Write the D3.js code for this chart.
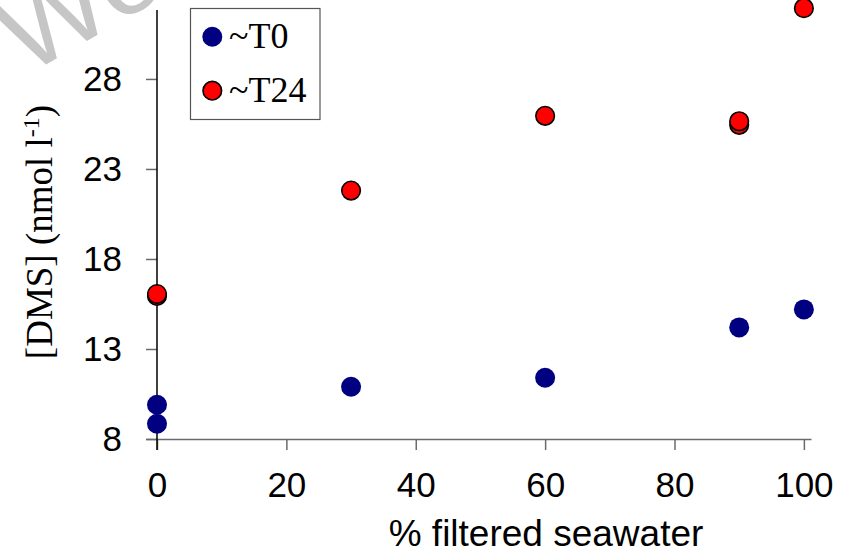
<!DOCTYPE html>
<html>
<head>
<meta charset="utf-8">
<script src="https://cdn.jsdelivr.net/npm/d3@7"></script>
<style>
  body { margin: 0; background: #fff; }
  svg { display: block; }
</style>
</head>
<body>
<svg id="chart" width="849" height="553"></svg>
<script>
// % filtered seawater vs [DMS]
var xTicks = [0, 20, 40, 60, 80, 100];
var yTicks = [8, 13, 18, 23, 28];

var t0X = [0, 0, 30, 60, 90, 100];
var t0Y = [9.9, 8.85, 10.9, 11.4, 14.2, 15.2];

var t24X = [0, 0, 30, 60, 90, 90, 100];
var t24Y = [15.95, 16.05, 21.8, 25.95, 25.45, 25.65, 31.93];

var seriesNames = ["~T0", "~T24"];

var svg = d3.select("#chart");

var x = d3.scaleLinear().domain([-1.7, 101.1]).range([146, 811]);
var y = d3.scaleLinear().domain([8, 31.83]).range([439, 10]);

// watermark
svg.append("text")
  .attr("transform", "translate(26,76) rotate(-30)")
  .style("font-family", "Liberation Sans, Arial, sans-serif")
  .style("font-size", "112px")
  .attr("fill", "#c6c6c6")
  .text("Wo");

// x axis
var xAxis = d3.axisBottom(x).tickValues(xTicks).tickSize(11).tickSizeOuter(0).tickPadding(22);
var gx = svg.append("g").attr("transform", "translate(0," + y(8) + ")").call(xAxis);
gx.select(".domain").attr("stroke", "#6a6a6a").attr("stroke-width", 1.5);
gx.selectAll(".tick line").attr("stroke", "#6a6a6a").attr("stroke-width", 1.5);
gx.selectAll(".tick text")
  .style("font-family", "Liberation Sans, Arial, sans-serif")
  .style("font-size", "35px").attr("fill", "#000");

// y axis
var yAxis = d3.axisLeft(y).tickValues(yTicks).tickSize(11).tickSizeOuter(0).tickPadding(24);
var gy = svg.append("g").attr("transform", "translate(" + x(0) + ",0)").call(yAxis);
gy.select(".domain").remove();
gy.selectAll(".tick line").attr("stroke", "#6a6a6a").attr("stroke-width", 1.5);
gy.selectAll(".tick text")
  .style("font-family", "Liberation Sans, Arial, sans-serif")
  .style("font-size", "35px").attr("fill", "#000");
gy.append("line")
  .attr("x1", 0).attr("x2", 0)
  .attr("y1", y(31.83)).attr("y2", y(8) + 11)
  .attr("stroke", "#000").attr("stroke-width", 1.5);

// axis titles
svg.append("text")
  .attr("x", 546).attr("y", 546)
  .attr("text-anchor", "middle")
  .style("font-family", "Liberation Sans, Arial, sans-serif")
  .style("font-size", "37px")
  .text("% filtered seawater");

var yt = svg.append("text")
  .attr("transform", "translate(52,232) rotate(-90)")
  .attr("text-anchor", "middle")
  .style("font-family", "Liberation Serif, Times New Roman, serif")
  .style("font-size", "37px");
yt.append("tspan").text("[DMS] (nmol l");
yt.append("tspan").attr("dy", -13).style("font-size", "24px").text("-1");
yt.append("tspan").attr("dy", 13).text(")");

// points
svg.append("g").selectAll("circle")
  .data(d3.range(t0X.length))
  .join("circle")
  .attr("cx", function (i) { return x(t0X[i]); })
  .attr("cy", function (i) { return y(t0Y[i]); })
  .attr("r", 10)
  .attr("fill", "#000080");

svg.append("g").selectAll("circle")
  .data(d3.range(t24X.length))
  .join("circle")
  .attr("cx", function (i) { return x(t24X[i]); })
  .attr("cy", function (i) { return y(t24Y[i]); })
  .attr("r", 9.3)
  .attr("fill", "#ff0000")
  .attr("stroke", "#000")
  .attr("stroke-width", 1.6);

// legend
var lg = svg.append("g");
lg.append("rect")
  .attr("x", 190.5).attr("y", 8.5).attr("width", 129.5).attr("height", 111)
  .attr("fill", "#fff").attr("stroke", "#555").attr("stroke-width", 1.2);
var legendStyles = [
  { fill: "#000080", stroke: "none", r: 10 },
  { fill: "#ff0000", stroke: "#000", r: 9.3 }
];
seriesNames.forEach(function (name, i) {
  var cy = 36.7 + i * 54;
  lg.append("circle")
    .attr("cx", 212.3).attr("cy", cy).attr("r", legendStyles[i].r)
    .attr("fill", legendStyles[i].fill)
    .attr("stroke", legendStyles[i].stroke).attr("stroke-width", 1.6);
  lg.append("text")
    .attr("x", 229).attr("y", cy + 11)
    .style("font-family", "Liberation Serif, Times New Roman, serif")
    .style("font-size", "36px")
    .text(name);
});
</script>
</body>
</html>
